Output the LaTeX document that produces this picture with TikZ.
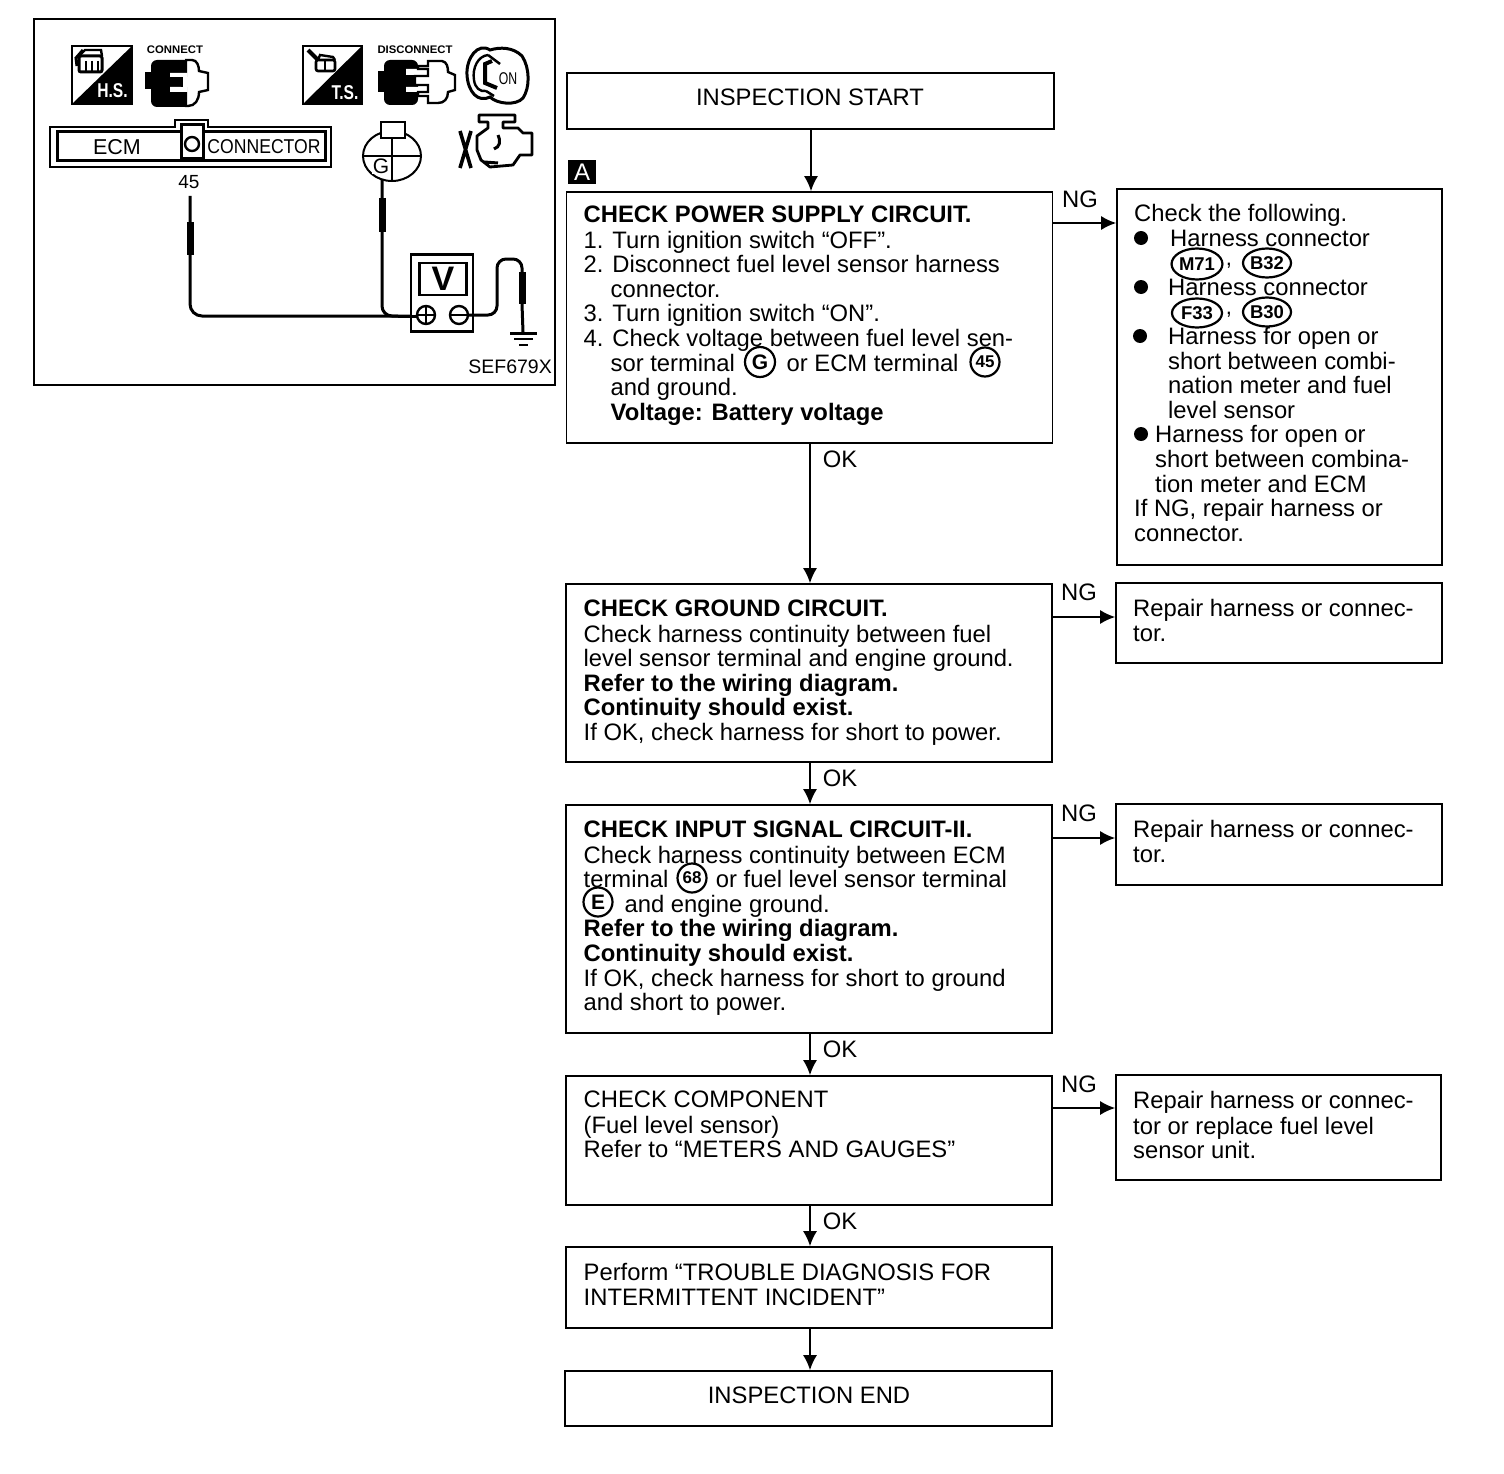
\documentclass[tikz,border=0pt]{standalone}
\usepackage{fontspec}
\setmainfont{Liberation Sans}
\usetikzlibrary{arrows.meta,shapes.geometric}
\newcommand{\bodyfont}{\fontsize{23.8}{24.6}\selectfont}
\newcommand{\ind}[1]{\hspace*{#1pt}}
\tikzset{
 box/.style={draw,line width=1.7pt,inner sep=0pt,anchor=north west,xshift=-0.8pt,yshift=0.8pt},
 txt/.style={inner sep=0pt,anchor=north west,align=left,font=\bodyfont},
 lbl/.style={inner sep=0pt,font=\bodyfont},
 conn/.style={line width=1.8pt,-{Latex[length=15pt,width=14pt]}},
 tag/.style={draw,line width=2.2pt,inner sep=0pt,font=\fontsize{18.5}{18.5}\selectfont\bfseries,ellipse},
 bul/.style={fill,circle,inner sep=0pt,minimum size=14pt},
 wire/.style={line width=3pt,line join=round},
 tip/.style={line width=7pt},
 tiny/.style={inner sep=0pt,font=\fontsize{11}{11}\selectfont\bfseries}
}
\begin{document}
\begin{tikzpicture}[x=1pt,y=-1pt]
\useasboundingbox (0,0) rectangle (1504,1474);
% ---------- flow boxes
\node[box,minimum width=487pt,minimum height=56pt] (start) at (567,73) {};
\node[box,minimum width=486pt,minimum height=251pt] (a) at (566.5,192) {};
\node[box,minimum width=325pt,minimum height=376pt] (ngA) at (1117,189) {};
\node[box,minimum width=486pt,minimum height=178pt] (ground) at (566,584) {};
\node[box,minimum width=326pt,minimum height=80pt] (ngB) at (1116,583) {};
\node[box,minimum width=486pt,minimum height=228pt] (input) at (566,805) {};
\node[box,minimum width=326pt,minimum height=81pt] (ngC) at (1116,804) {};
\node[box,minimum width=486pt,minimum height=129pt] (comp) at (566,1076) {};
\node[box,minimum width=325pt,minimum height=105pt] (ngD) at (1116,1075) {};
\node[box,minimum width=486pt,minimum height=81pt] (perf) at (566,1247) {};
\node[box,minimum width=487pt,minimum height=55pt] (endb) at (565,1371) {};
\node[lbl] (tstart) at (810,97) {INSPECTION START};
\node[lbl] (tend) at (809,1395) {INSPECTION END};
\node[fill,inner sep=0pt,minimum width=28pt,minimum height=24pt,text=white,font=\fontsize{24}{24}\selectfont] (tagA) at (582,172) {A};
% ---------- box texts
\node[txt] (ta) at (583.5,205.1) {\strut\textbf{CHECK POWER SUPPLY CIRCUIT.}\\
1. Turn ignition switch “OFF”.\\
2. Disconnect fuel level sensor harness\\
\ind{27}connector.\\
3. Turn ignition switch “ON”.\\
4. Check voltage between fuel level sen-\\
\ind{27}sor terminal \ind{45}or ECM terminal\\
\ind{27}and ground.\\
\ind{27}\textbf{Voltage: Battery voltage}};
\node[txt] (tb) at (1134,204.1) {\strut Check the following.\\
\ind{36}Harness connector\\
\\
\ind{34}Harness connector\\
\\
\ind{34}Harness for open or\\
\ind{34}short between combi-\\
\ind{34}nation meter and fuel\\
\ind{34}level sensor\\
\ind{21}Harness for open or\\
\ind{21}short between combina-\\
\ind{21}tion meter and ECM\\
If NG, repair harness or\\
connector.};
\node[txt] (tc) at (583.5,599.1) {\strut\textbf{CHECK GROUND CIRCUIT.}\\
Check harness continuity between fuel\\
level sensor terminal and engine ground.\\
\textbf{Refer to the wiring diagram.}\\
\textbf{Continuity should exist.}\\
If OK, check harness for short to power.};
\node[txt] (td) at (1133,599.1) {\strut Repair harness or connec-\\tor.};
\node[txt] (te) at (583.5,820.1) {\strut\textbf{CHECK INPUT SIGNAL CIRCUIT-II.}\\
Check harness continuity between ECM\\
terminal \ind{41}or fuel level sensor terminal\\
\ind{41}and engine ground.\\
\textbf{Refer to the wiring diagram.}\\
\textbf{Continuity should exist.}\\
If OK, check harness for short to ground\\
and short to power.};
\node[txt] (tf) at (1133,820.1) {\strut Repair harness or connec-\\tor.};
\node[txt] (tg) at (583.5,1090.1) {\strut CHECK COMPONENT\\
(Fuel level sensor)\\
Refer to “METERS AND GAUGES”};
\node[txt] (th) at (1133,1091.1) {\strut Repair harness or connec-\\tor or replace fuel level\\sensor unit.};
\node[txt] (ti) at (583.5,1263.1) {\strut Perform “TROUBLE DIAGNOSIS FOR\\INTERMITTENT INCIDENT”};
% ---------- circled references
\node[tag,circle,minimum size=30pt,font=\fontsize{21}{21}\selectfont\bfseries] (cG) at (760,362) {G};
\node[tag,circle,minimum size=29pt,font=\fontsize{17}{17}\selectfont\bfseries] (c45) at (985,362) {45};
\node[tag,circle,minimum size=29pt,font=\fontsize{17}{17}\selectfont\bfseries] (c68) at (692,878) {68};
\node[tag,circle,minimum size=29pt,font=\fontsize{21}{21}\selectfont\bfseries] (cE) at (598,902) {E};
\node[tag,minimum width=50pt,minimum height=31pt] (cM) at (1197,264) {M71};
\node[tag,minimum width=48pt,minimum height=29pt] (cB) at (1267,263) {B32};
\node[tag,minimum width=50pt,minimum height=29pt] (cF) at (1197,313) {F33};
\node[tag,minimum width=48pt,minimum height=29pt] (cBB) at (1267,312) {B30};
\node[inner sep=0pt,font=\fontsize{22}{22}\selectfont] (k1) at (1229,266) {,};
\node[inner sep=0pt,font=\fontsize{22}{22}\selectfont] (k2) at (1229,315) {,};
\node[bul] (b1) at (1141,238) {};
\node[bul] (b2) at (1141,287) {};
\node[bul] (b3) at (1140,336) {};
\node[bul] (b4) at (1141,434) {};
% ---------- connectors
\coordinate (yA) at (0,223);
\coordinate (yB) at (0,617);
\coordinate (yC) at (0,838);
\coordinate (yD) at (0,1108);
\draw[conn] (start.south -| 811,0) -- (a.north -| 811,0);
\draw[conn] (a.south -| 810,0) -- (ground.north -| 810,0);
\draw[conn] (ground.south -| 810,0) -- (input.north -| 810,0);
\draw[conn] (input.south -| 810,0) -- (comp.north -| 810,0);
\draw[conn] (comp.south -| 810,0) -- (perf.north -| 810,0);
\draw[conn] (perf.south -| 810,0) -- (endb.north -| 810,0);
\draw[conn] (a.east |- yA) -- (ngA.west |- yA);
\draw[conn] (ground.east |- yB) -- (ngB.west |- yB);
\draw[conn] (input.east |- yC) -- (ngC.west |- yC);
\draw[conn] (comp.east |- yD) -- (ngD.west |- yD);
\node[lbl] (ng1) at (1080,199) {NG};
\node[lbl] (ng2) at (1079,592) {NG};
\node[lbl] (ng3) at (1079,813) {NG};
\node[lbl] (ng4) at (1079,1084) {NG};
\node[lbl] (ok1) at (840,459) {OK};
\node[lbl] (ok2) at (840,778) {OK};
\node[lbl] (ok3) at (840,1049) {OK};
\node[lbl] (ok4) at (840,1221) {OK};
% ---------- illustration frame
\node[box,minimum width=521pt,minimum height=366pt] (frame) at (34,19) {};
\node[inner sep=0pt,anchor=east,font=\fontsize{19.5}{20}\selectfont] (sef) at (552,367) {SEF679X};
% H.S. icon
\draw[line width=2pt] (72,46) rectangle (132,104);
\fill (132,46) -- (132,104) -- (72,104) -- cycle;
\node[inner sep=0pt,text=white,font=\fontsize{20}{20}\selectfont\bfseries,xscale=.78] (hs) at (112.5,91) {H.S.};
\draw[line width=3pt,fill=white,rounded corners=2pt] (79,56) rectangle (102,72);
\draw[line width=2.4pt] (79,56) -- (85,50) -- (101,50) -- (102,56);
\draw[line width=3pt] (83,50) -- (76,58) -- (77,66);
\draw[line width=2pt] (86,61) -- (86,71) (92,61) -- (92,71) (98,61) -- (98,71);
% CONNECT icon
\node[tiny,xscale=1.03] (conlbl) at (175,50) {CONNECT};
\fill[rounded corners=6pt] (151,60) rectangle (190,107);
\fill (145,72) rectangle (152,89);
\draw[line width=2.4pt,fill=white] (186,60) -- (192,60) .. controls (197,60) and (199,66) .. (199,71) -- (208,73) -- (208,90) -- (199,92) .. controls (199,100) and (195,106) .. (188,106) -- (186,106) -- cycle;
\fill[white] (170,73) rectangle (187.5,77) (170,87) rectangle (187.5,92);
\fill (181,77) rectangle (183,87);
\fill[white] (183,77) rectangle (187.5,87);
% T.S. icon
\draw[line width=2pt] (303,46) rectangle (362,104);
\fill (362,46) -- (362,104) -- (303,104) -- cycle;
\node[inner sep=0pt,text=white,font=\fontsize{20}{20}\selectfont\bfseries,xscale=.78] (ts) at (345,93) {T.S.};
\draw[line width=2.6pt,fill=white,rounded corners=2pt] (316,60) rectangle (335,71);
\draw[line width=2pt] (325,60) -- (325,71);
\draw[line width=2.4pt] (318,60) -- (320,55) -- (333,57) -- (335,60);
\draw[line width=4pt] (308,50) -- (318,60);
% DISCONNECT icon
\node[tiny,xscale=1.03] (dislbl) at (415,50) {DISCONNECT};
\fill[rounded corners=6pt] (384,60) rectangle (418,105);
\fill (378,71) rectangle (386,92);
\fill[white] (406,69) rectangle (420,75) (406,87) rectangle (420,92);
\draw[line width=2.4pt,fill=white] (428,61) -- (442,61) .. controls (447,62) and (448,67) .. (448,72) -- (455,75) -- (455,90) -- (448,92) .. controls (448,99) and (444,103) .. (438,103) -- (428,103) -- (428,96) -- (418,96) -- (418,92) -- (428,92) -- (428,85) -- (415,85) -- (415,76) -- (428,76) -- (428,69) -- (418,69) -- (418,66) -- (428,66) -- cycle;
% key icon
\draw[line width=3pt,fill=white] (490,50) .. controls (478,42) and (466,58) .. (467,75) .. controls (468,92) and (478,103) .. (490,97) .. controls (497,104) and (516,106) .. (523,98) .. controls (530,88) and (530,68) .. (522,56) .. controls (513,47) and (500,47) .. (490,50) -- cycle;
\draw[line width=2.4pt] (488,55) .. controls (478,56) and (472,68) .. (474,80) .. controls (475,88) and (480,92) .. (486,91);
\draw[line width=4pt] (492,61) -- (485,64) -- (485,83) -- (497,88);
\draw[line width=2.5pt] (488,55) -- (500,64);
\draw[line width=2.5pt] (486,91) -- (494,96);
\node[inner sep=0pt,font=\fontsize{17}{17}\selectfont,xscale=.72] (on) at (508,79) {ON};
% ECM connector
\draw[line width=2pt] (50,127) -- (175,127) -- (175,120) -- (208,120) -- (208,127) -- (331,127) -- (331,167) -- (50,167) -- cycle;
\draw[line width=3pt] (57,132) rectangle (325,161);
\draw[line width=3pt,fill=white] (181,125) -- (181,159) -- (203,159) -- (203,125) -- cycle;
\node[inner sep=0pt,font=\fontsize{21.5}{22}\selectfont] (ecm) at (117,147) {ECM};
\node[inner sep=0pt,font=\fontsize{20}{20}\selectfont,xscale=.88] (conx) at (264,147) {CONNECTOR};
\node[draw,circle,line width=2.4pt,inner sep=0pt,minimum size=14pt] (pin) at (192,144) {};
\node[inner sep=0pt,font=\fontsize{19}{19}\selectfont] (n45) at (189,182) {45};
% sensor
\node[draw,ellipse,line width=2pt,inner sep=0pt,minimum width=58pt,minimum height=50pt] (sens) at (392,156) {};
\draw[line width=1.8pt] (sens.center |- 0,138) -- (sens.south) (sens.west) -- (sens.east);
\draw[line width=2pt,fill=white] (381,122) rectangle (405,138);
\node[inner sep=1pt,fill=white,font=\fontsize{21}{21}\selectfont] (gl) at (381,166) {G};
% engine
\draw[line width=2.8pt,line join=round] (488,122) -- (479,122) -- (479,115) -- (515,115) -- (515,122) -- (503,122) -- (503,128) -- (518,128) -- (523,133) -- (532,133) -- (532,155) -- (520,155) -- (513,165) -- (490,167) -- (481,160) -- (477,150) -- (477,136) -- (488,128) -- cycle;
\draw[line width=3.6pt] (460,131) -- (471,168) (471,131) -- (460,168);
\draw[line width=3pt] (498,135) .. controls (501,141) and (500,147) .. (494,149);
\draw[line width=3pt] (484,162) -- (498,163);
% probes and meter
\coordinate (pL) at (190,196);
\coordinate (pG) at (382,180);
\coordinate (mP) at (426,315);
\coordinate (mN) at (459,315);
\coordinate (gnd) at (523,332);
\draw[wire,rounded corners=12pt] (pL) -- (190,316) -- (mP |- 0,316);
\draw[wire,rounded corners=10pt] (pG) -- (382,316) -- (398,316);
\draw[tip] (190,222) -- (190,255);
\draw[tip] (382,198) -- (382,232);
\node[draw,line width=2.4pt,fill=white,inner sep=0pt,minimum width=62pt,minimum height=77pt] (meter) at (442,293) {};
\node[draw,line width=2.6pt,inner sep=0pt,minimum width=47pt,minimum height=32pt,font=\fontsize{34}{34}\selectfont\bfseries] (vw) at (443,279) {V};
\draw[wire] (398,316) -- (420,316);
\node[draw,circle,line width=2.4pt,fill=white,inner sep=0pt,minimum size=18pt] (plus) at (mP) {};
\node[draw,circle,line width=2.4pt,fill=white,inner sep=0pt,minimum size=18pt] (minus) at (mN) {};
\draw[line width=2pt] (plus.north) -- (plus.south) (plus.west) -- (plus.east) (minus.west) -- (minus.east);
\draw[wire,rounded corners=9pt] (minus.east) -- (497,315) -- (497,259) -- (522,259) -- (522,272);
\draw[tip] (522,272) -- (522,304);
\draw[wire] (522,304) -- (gnd);
\draw[line width=3pt] (510,333) -- (537,333);
\draw[line width=2.4pt] (514,339) -- (533,339);
\draw[line width=2.4pt] (519,345) -- (528,345);
\end{tikzpicture}
\end{document}
